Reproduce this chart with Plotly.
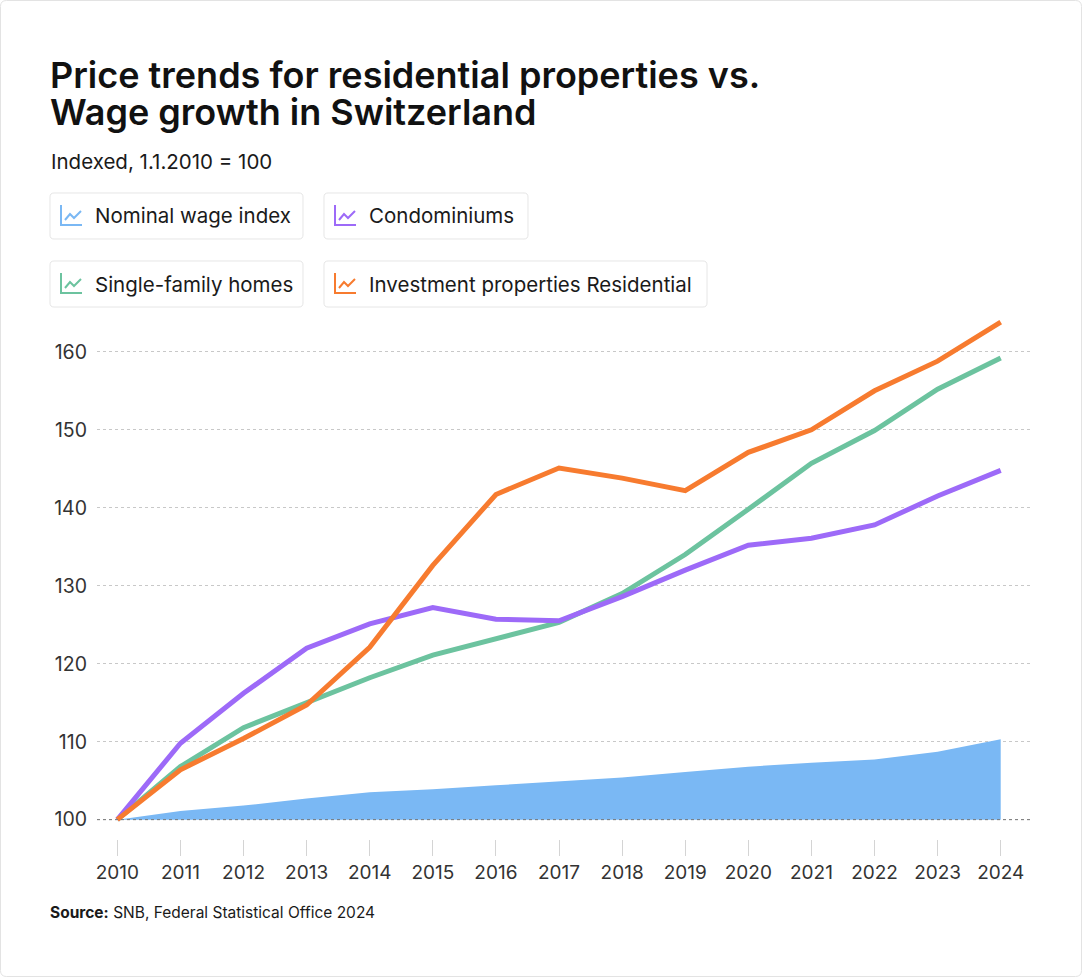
import plotly.graph_objects as go

# data
years = list(range(2010, 2025))
wage_index = [100, 101.1, 101.8, 102.7, 103.5, 103.9, 104.4, 104.9, 105.4, 106.1, 106.8, 107.3, 107.7, 108.7, 110.3]
condominiums = [100, 109.8, 116.2, 122.0, 125.1, 127.2, 125.7, 125.5, 128.6, 132.0, 135.2, 136.1, 137.8, 141.5, 144.8]
single_family = [100, 106.8, 111.8, 115.0, 118.2, 121.1, 123.2, 125.3, 129.0, 134.0, 139.8, 145.7, 149.9, 155.2, 159.2]
investment_res = [100, 106.4, 110.4, 114.7, 122.1, 132.6, 141.7, 145.1, 143.8, 142.2, 147.1, 150.0, 155.0, 158.8, 163.8]
base_line = [100] * len(years)
y_ticks = [100, 110, 120, 130, 140, 150, 160]

legend_names = ["Nominal wage index", "Condominiums", "Single-family homes", "Investment properties Residential"]

C_WAGE = "#7ab8f4"
C_CONDO = "#9d6af8"
C_SFH = "#6cc39f"
C_INV = "#f77b2f"
FONT = "Inter"

# figure geometry (pixels)
W, H = 1082, 977
L, R, T, B = 97, 50, 305, 138
PW, PH = W - L - R, H - T - B


def px_x(x):
    return (x - L) / PW


def px_y(y):
    return (H - B - y) / PH


def rounded_rect(x0, y0, x1, y1, r):
    pts = [
        ("M", x0 + r, y0), ("L", x1 - r, y0), ("Q", x1, y0, x1, y0 + r),
        ("L", x1, y1 - r), ("Q", x1, y1, x1 - r, y1), ("L", x0 + r, y1),
        ("Q", x0, y1, x0, y1 - r), ("L", x0, y0 + r), ("Q", x0, y0, x0 + r, y0),
    ]
    s = ""
    for p in pts:
        cmd = p[0]
        coords = p[1:]
        parts = []
        for i in range(0, len(coords), 2):
            parts.append(f"{px_x(coords[i]):.5f},{px_y(coords[i + 1]):.5f}")
        s += cmd + " ".join(parts) + " "
    return s + "Z"


def chart_icon(x, y):
    # small line-chart glyph, top-left corner at (x, y), about 20x20 px
    axes = [(x, y), (x, y + 20), (x + 21, y + 20)]
    zig = [(x + 4, y + 15), (x + 9, y + 9), (x + 13, y + 13), (x + 20, y + 6)]
    a = "M" + " L".join(f"{px_x(p[0]):.5f},{px_y(p[1]):.5f}" for p in axes)
    z = "M" + " L".join(f"{px_x(p[0]):.5f},{px_y(p[1]):.5f}" for p in zig)
    return a, z


fig = go.Figure()

fig.add_trace(go.Scatter(x=years, y=base_line, mode="lines", line=dict(width=0, color=C_WAGE),
                         showlegend=False, hoverinfo="skip"))
fig.add_trace(go.Scatter(x=years, y=wage_index, mode="lines", fill="tonexty", fillcolor=C_WAGE,
                         line=dict(width=0, color=C_WAGE), name=legend_names[0], showlegend=False))
fig.add_trace(go.Scatter(x=years, y=single_family, mode="lines", line=dict(color=C_SFH, width=5),
                         name=legend_names[2], showlegend=False))
fig.add_trace(go.Scatter(x=years, y=condominiums, mode="lines", line=dict(color=C_CONDO, width=5),
                         name=legend_names[1], showlegend=False))
fig.add_trace(go.Scatter(x=years, y=investment_res, mode="lines", line=dict(color=C_INV, width=5),
                         name=legend_names[3], showlegend=False))

shapes = []
annotations = []

# outer frame
shapes.append(dict(type="path", xref="paper", yref="paper", path=rounded_rect(0.5, 0.5, W - 0.5, H - 0.5, 6),
                   line=dict(color="#e3e3e3", width=1), layer="below"))

# darker dotted baseline at 100
shapes.append(dict(type="line", xref="paper", yref="y", x0=0, x1=1, y0=100, y1=100,
                   line=dict(color="#777777", width=1, dash="dot")))

# legend chips
chips = [
    (50, 193, 303, 239, C_WAGE, legend_names[0]),
    (324, 193, 528, 239, C_CONDO, legend_names[1]),
    (50, 261, 303, 307, C_SFH, legend_names[2]),
    (324, 261, 707, 307, C_INV, legend_names[3]),
]
for x0, y0, x1, y1, col, txt in chips:
    shapes.append(dict(type="path", xref="paper", yref="paper", path=rounded_rect(x0, y0, x1, y1, 4),
                       line=dict(color="#e6e6e6", width=1), fillcolor="white"))
    a, z = chart_icon(x0 + 11, y0 + 12)
    shapes.append(dict(type="path", xref="paper", yref="paper", path=a, line=dict(color=col, width=2)))
    shapes.append(dict(type="path", xref="paper", yref="paper", path=z, line=dict(color=col, width=2)))
    annotations.append(dict(xref="paper", yref="paper", x=px_x(x0 + 43), y=px_y((y0 + y1) / 2),
                            xanchor="left", yanchor="middle", text=txt, showarrow=False,
                            font=dict(family=FONT, size=20.5, color="#1a1a1a")))

# title, subtitle, source
annotations.append(dict(xref="paper", yref="paper", x=px_x(48), y=px_y(75), xanchor="left", yanchor="middle",
                        text="Price trends for residential properties vs.", showarrow=False,
                        font=dict(family=FONT, size=36, weight=600, color="#111111")))
annotations.append(dict(xref="paper", yref="paper", x=px_x(48), y=px_y(112), xanchor="left", yanchor="middle",
                        text="Wage growth in Switzerland", showarrow=False,
                        font=dict(family=FONT, size=36, weight=600, color="#111111")))
annotations.append(dict(xref="paper", yref="paper", x=px_x(49), y=px_y(161), xanchor="left", yanchor="middle",
                        text="Indexed, 1.1.2010 = 100", showarrow=False,
                        font=dict(family=FONT, size=20.5, color="#1a1a1a")))
annotations.append(dict(xref="paper", yref="paper", x=px_x(48), y=px_y(912), xanchor="left", yanchor="middle",
                        text="<b>Source:</b> SNB, Federal Statistical Office 2024", showarrow=False,
                        font=dict(family=FONT, size=15.5, color="#1a1a1a")))

fig.update_layout(
    width=W, height=H,
    margin=dict(l=L, r=R, t=T, b=B),
    paper_bgcolor="white", plot_bgcolor="white",
    font=dict(family=FONT, color="#333333"),
    showlegend=False,
    shapes=shapes,
    annotations=annotations,
    xaxis=dict(
        range=[2009.678, 2024.496], tickmode="array", tickvals=years, ticktext=[str(y) for y in years],
        showgrid=False, zeroline=False, showline=False, ticks="outside", ticklen=16, tickwidth=1,
        tickcolor="#d4d4d4", tickfont=dict(family=FONT, size=19, color="#333333"),
        anchor="free", position=0,
    ),
    yaxis=dict(
        range=[99.7, 166], domain=[17 / PH, 1], tickmode="array", tickvals=y_ticks,
        showgrid=True, gridcolor="#c8c8c8", griddash="dot", gridwidth=1,
        zeroline=False, showline=False, ticks="", ticklabelstandoff=9,
        tickfont=dict(family=FONT, size=19.5, color="#333333"),
    ),
)

fig.write_html("out.html", config={"displayModeBar": False},
               post_script="document.body.style.margin='0';")
